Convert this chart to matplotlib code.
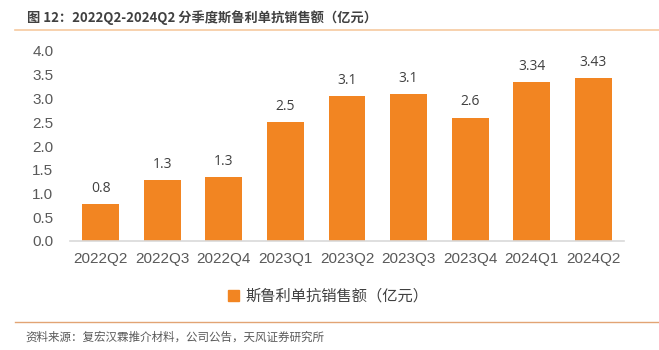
import matplotlib.pyplot as plt
from matplotlib.lines import Line2D
from matplotlib.patches import Patch

plt.rcParams['font.family'] = ['Liberation Sans', 'Noto Sans CJK SC', 'DejaVu Sans']

quarters = ['2022Q2', '2022Q3', '2022Q4', '2023Q1', '2023Q2', '2023Q3', '2023Q4', '2024Q1', '2024Q2']
sales = [0.78, 1.28, 1.34, 2.5, 3.06, 3.1, 2.6, 3.34, 3.43]
sales_labels = ['0.8', '1.3', '1.3', '2.5', '3.1', '3.1', '2.6', '3.34', '3.43']
yticks = [0.0, 0.5, 1.0, 1.5, 2.0, 2.5, 3.0, 3.5, 4.0]

bar_color = '#F28522'
text_color = '#404040'

fig = plt.figure(figsize=(6.59, 3.5), dpi=100)
ax = fig.add_axes([70 / 659, 109 / 350, 554 / 659, 190 / 350])

x = range(len(quarters))
ax.bar(x, sales, width=0.6, color=bar_color, zorder=2)
for xi, v, lab in zip(x, sales, sales_labels):
    ax.text(xi, v + 0.17, lab, ha='center', va='bottom', fontsize=10,
            color=text_color, family=['Open Sans', 'DejaVu Sans'])

ax.set_xlim(-0.5, len(quarters) - 0.5)
ax.set_ylim(0, 4.0)
ax.set_yticks(yticks)
ax.set_yticklabels(['%.1f' % t for t in yticks])
ax.set_xticks(list(x))
ax.set_xticklabels(quarters)
ax.tick_params(axis='both', length=0, labelsize=11, colors='#595959')
ax.tick_params(axis='y', pad=12)
ax.tick_params(axis='x', pad=8)
for s in ['top', 'right', 'left']:
    ax.spines[s].set_visible(False)
ax.spines['bottom'].set_color('#D9D9D9')
ax.spines['bottom'].set_linewidth(1.2)

leg = fig.legend(handles=[Patch(color=bar_color, label='斯鲁利单抗销售额（亿元）')],
                 loc='center', bbox_to_anchor=(328 / 659, 1 - 296 / 350), frameon=False,
                 fontsize=11, handlelength=0.7, handleheight=0.7, handletextpad=0.4)
for t in leg.get_texts():
    t.set_color(text_color)
    t.set_family(['Noto Sans CJK SC', 'DejaVu Sans'])

# title and source
fig.text(27 / 659, 1 - 18 / 350, '图 12：2022Q2-2024Q2 分季度斯鲁利单抗销售额（亿元）',
         fontsize=9.5, fontweight='bold', color=text_color, va='center', ha='left',
         family=['Noto Sans CJK SC', 'DejaVu Sans'])
fig.add_artist(Line2D([15 / 659, 1], [1 - 30 / 350] * 2, color='#F6C9A0', lw=1.2))
fig.add_artist(Line2D([15 / 659, 1], [1 - 322 / 350] * 2, color='#E2A474', lw=1.0))
fig.text(25 / 659, 1 - 337 / 350, '资料来源：复宏汉霖推介材料，公司公告，天风证券研究所',
         fontsize=8.3, color='#595959', va='center', ha='left',
         family=['Noto Sans CJK SC', 'DejaVu Sans'])

fig.savefig('out.png', dpi=100)
